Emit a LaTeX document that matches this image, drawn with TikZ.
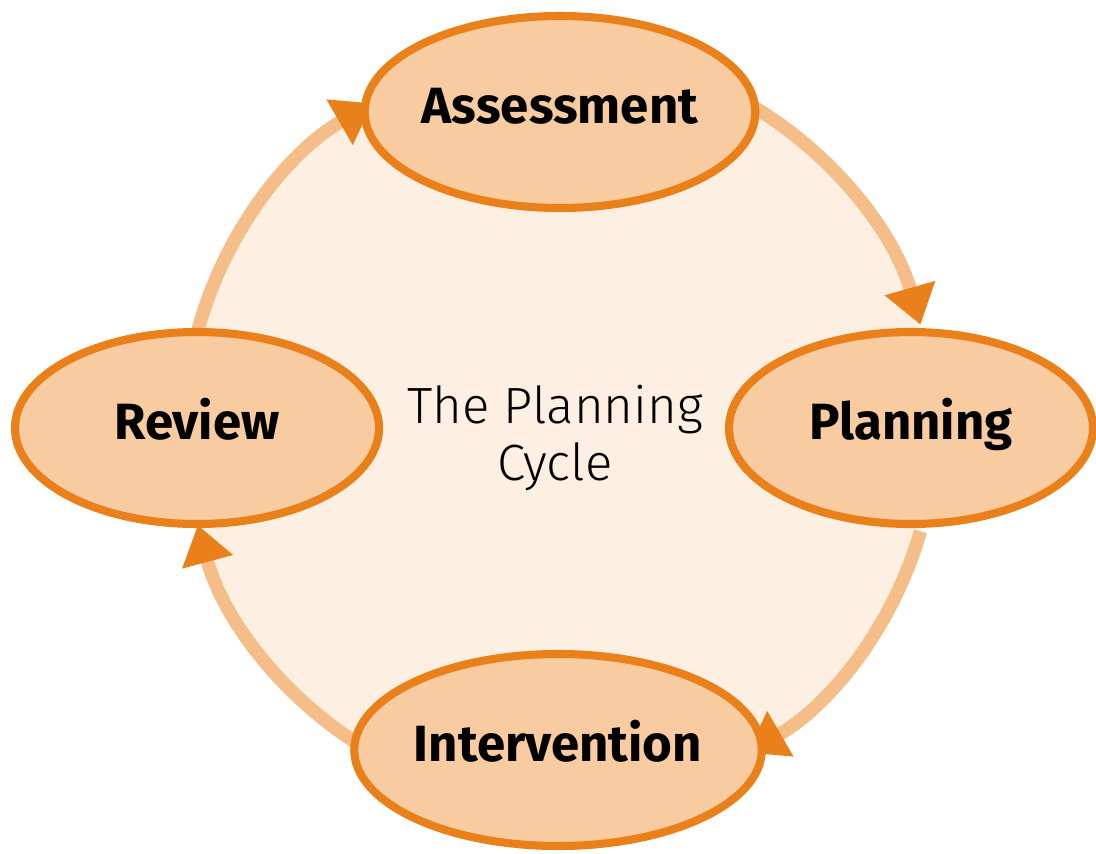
\documentclass[tikz,border=0pt]{standalone}
\usepackage{fontspec}
\setmainfont{Fira Sans}
\newfontfamily\lightfont{Fira Sans Light}
\usetikzlibrary{shapes.geometric}
\usetikzlibrary{arrows.meta}
\definecolor{cream}{HTML}{FDF0E3}
\definecolor{ringorange}{HTML}{F5BD87}
\definecolor{stagefill}{HTML}{F8CBA0}
\definecolor{darkorange}{HTML}{E9801A}

\tikzset{
  stage/.style={ellipse, draw=darkorange, fill=stagefill, line width=2.3pt,
    minimum width=3.64cm, minimum height=1.92cm, inner sep=0pt,
    text height=0.35cm, text depth=0.12cm,
    font=\fontsize{14.5}{17}\selectfont\bfseries},
  cycle arrow/.style={color=ringorange, line width=3.8pt,
    -{Triangle[length=3.8mm, width=5mm, color=darkorange]}}
}

\begin{document}
\begin{tikzpicture}
    \useasboundingbox (0,0) rectangle (10.96,8.53);

    % Background disc
    \coordinate (centre) at (5.60,4.25);
    \fill[cream] (centre) circle[radius=3.75];

    % Ring arrows, clockwise
    \draw[cycle arrow] ([shift={(60:3.75)}]centre) arc[start angle=60, end angle=16, radius=3.75];
    \draw[cycle arrow] ([shift={(-16:3.75)}]centre) arc[start angle=-16, end angle=-60, radius=3.75];
    \draw[cycle arrow] ([shift={(-120:3.75)}]centre) arc[start angle=-120, end angle=-165, radius=3.75];
    \draw[cycle arrow] ([shift={(165:3.75)}]centre) arc[start angle=165, end angle=120, radius=3.75];

    % Stages
    \node[stage] (assess) at (5.60,7.41) {Assessment};
    \node[stage] (plan) at (9.11,4.25) {Planning};
    \node[stage] (interv) at (5.58,1.03) {Intervention};
    \node[stage] (review) at (1.97,4.25) {Review};

    \node[align=center, font=\lightfont\fontsize{14.5}{16.5}\selectfont] (title) at (5.55,4.15) {The Planning\\Cycle};

\end{tikzpicture}
\end{document}
